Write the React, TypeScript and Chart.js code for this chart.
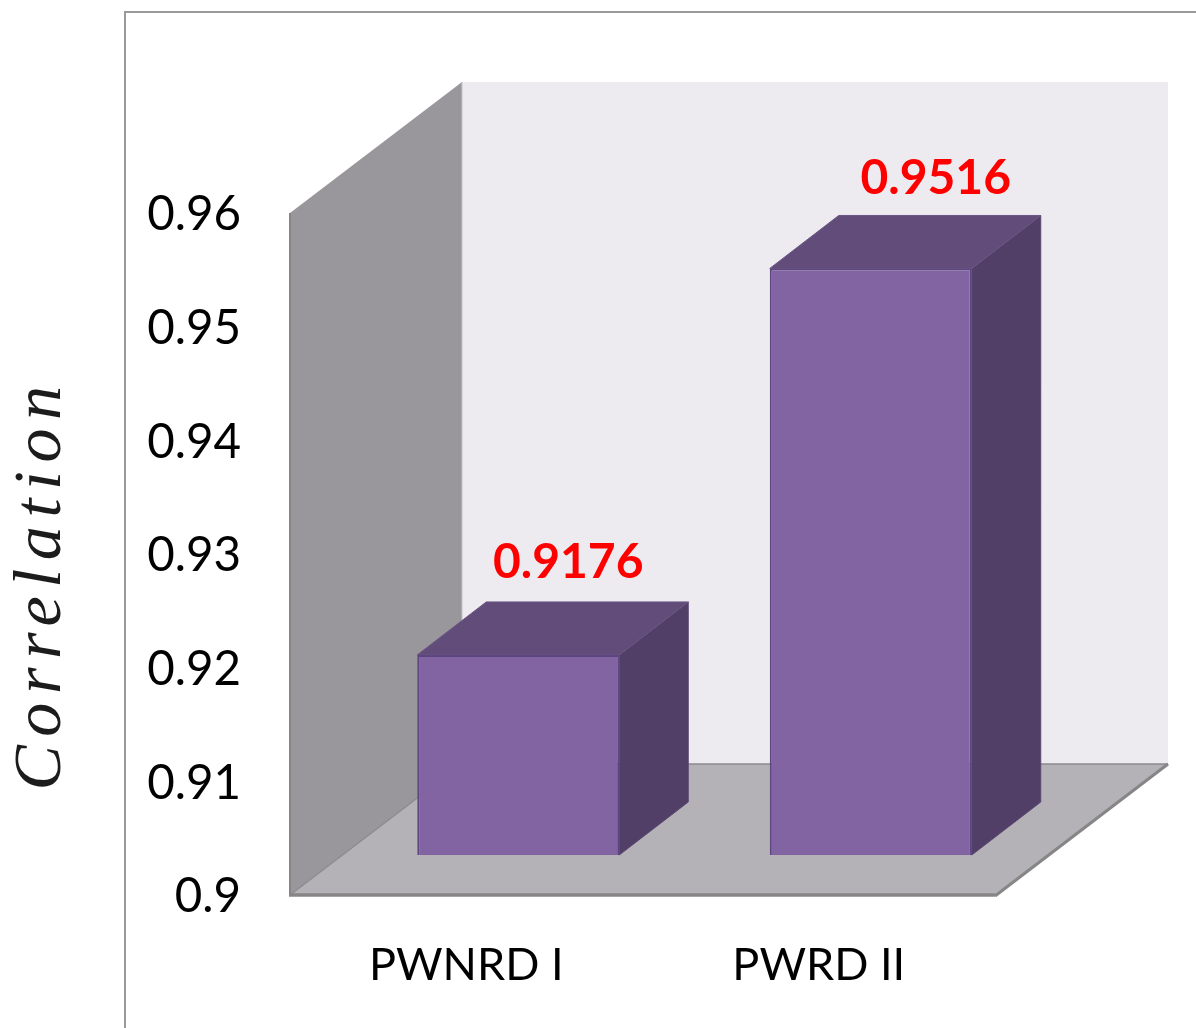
import { useEffect, useRef } from "react";
import { Chart, registerables } from "chart.js";

Chart.register(...registerables);

const categories = ["PWNRD I", "PWRD II"];
const correlations = [0.9176, 0.9516];
const axisMin = 0.9;
const axisMax = 0.96;
const axisStep = 0.01;
const axisTitle = "Correlation";

const WALL_DX = 172;
const WALL_DY = -131;
const BAR_SHIFT_X = 52;
const BAR_SHIFT_Y = -40;
const BAR_DX = 69;
const BAR_DY = -53;
const LABEL_DX = [50, 65];
const LABEL_DY = [-92, -90];
const TICK_DROP = 2;

function poly(ctx: CanvasRenderingContext2D, pts: number[][], fill: string, stroke?: string, lw = 1) {
  ctx.beginPath();
  pts.forEach(([x, y], i) => (i ? ctx.lineTo(x, y) : ctx.moveTo(x, y)));
  ctx.closePath();
  ctx.fillStyle = fill;
  ctx.fill();
  if (stroke) {
    ctx.strokeStyle = stroke;
    ctx.lineWidth = lw;
    ctx.stroke();
  }
}

function line(ctx: CanvasRenderingContext2D, x0: number, y0: number, x1: number, y1: number, color: string, lw: number) {
  ctx.beginPath();
  ctx.moveTo(x0, y0);
  ctx.lineTo(x1, y1);
  ctx.strokeStyle = color;
  ctx.lineWidth = lw;
  ctx.stroke();
}

// Outer frame, side wall, back wall and floor of the 3D box behind the bars.
const boxPlugin = {
  id: "box3d",
  beforeDraw(chart: any) {
    const { ctx, chartArea: a } = chart;
    const yScale = chart.scales.y;
    if (!yScale.__dropped) {
      // Tick text sits a little below the tick position.
      const drawLabels = yScale.drawLabels.bind(yScale);
      yScale.drawLabels = (area: any) => {
        yScale.ctx.save();
        yScale.ctx.translate(0, TICK_DROP);
        drawLabels(area);
        yScale.ctx.restore();
      };
      yScale.__dropped = true;
    }
    ctx.save();
    ctx.fillStyle = "#ffffff";
    ctx.fillRect(0, 0, chart.width, chart.height);
    line(ctx, 125, 1028, 125, 12, "#9a9a9a", 2);
    line(ctx, 124, 12, 1196, 12, "#9a9a9a", 2);
    const { left: l, right: r, top: t, bottom: b } = a;
    poly(ctx, [[l + WALL_DX, t + WALL_DY], [r + WALL_DX + 1, t + WALL_DY], [r + WALL_DX + 1, b + WALL_DY], [l + WALL_DX, b + WALL_DY]], "#edebf0");
    poly(ctx, [[l, t], [l + WALL_DX, t + WALL_DY], [l + WALL_DX, b + WALL_DY], [l, b]], "#99979b");
    poly(ctx, [[l, b], [r, b], [r + WALL_DX + 1, b + WALL_DY], [l + WALL_DX, b + WALL_DY]], "#b4b2b6");
    line(ctx, l + WALL_DX, b + WALL_DY, r + WALL_DX + 1, b + WALL_DY, "#8a8a8c", 1.5);
    line(ctx, l, b, l + WALL_DX, b + WALL_DY, "#8a8a8c", 1.2);
    line(ctx, l + WALL_DX, t + WALL_DY, l + WALL_DX, b + WALL_DY, "#c4c3c8", 1);
    line(ctx, r, b + 1, r + WALL_DX + 1, b + WALL_DY, "#868686", 3);
    line(ctx, l, t, l, b + 1, "#868686", 2);
    line(ctx, l - 1, b, r, b, "#868686", 3.5);
    ctx.restore();
  },
  beforeDatasetDraw(chart: any) {
    const { ctx } = chart;
    ctx.save();
    ctx.translate(BAR_SHIFT_X, BAR_SHIFT_Y);
    chart.getDatasetMeta(0).data.forEach((bar: any) => {
      const x0 = bar.x - bar.width / 2;
      const x1 = bar.x + bar.width / 2;
      poly(ctx, [[x1, bar.y], [x1 + BAR_DX, bar.y + BAR_DY], [x1 + BAR_DX, bar.base + BAR_DY], [x1, bar.base]], "#523f68", "#5a4672", 1);
      poly(ctx, [[x0, bar.y], [x1, bar.y], [x1 + BAR_DX, bar.y + BAR_DY], [x0 + BAR_DX, bar.y + BAR_DY]], "#614c7a", "#6a5584", 1);
    });
  },
  afterDatasetDraw(chart: any) {
    chart.ctx.restore();
  },
  afterDraw(chart: any) {
    const { ctx } = chart;
    const meta = chart.getDatasetMeta(0).data;
    ctx.save();
    ctx.fillStyle = "#ff0000";
    ctx.font = "bold 48px Lato";
    ctx.textAlign = "center";
    ctx.textBaseline = "middle";
    meta.forEach((bar: any, i: number) => {
      ctx.fillText(correlations[i].toFixed(4), bar.x + BAR_SHIFT_X + LABEL_DX[i], bar.y + BAR_SHIFT_Y + LABEL_DY[i]);
    });
    ctx.restore();

    ctx.save();
    ctx.translate(60, 584);
    ctx.rotate(-Math.PI / 2);
    ctx.fillStyle = "#1c1c1c";
    ctx.font = 'italic 68px "Liberation Serif"';
    (ctx as any).letterSpacing = "8.6px";
    ctx.textAlign = "center";
    ctx.textBaseline = "alphabetic";
    ctx.fillText(axisTitle, 0, 0);
    ctx.restore();
  },
};

export default function App() {
  const ref = useRef<HTMLCanvasElement>(null);
  useEffect(() => {
    const chart = new Chart(ref.current!, {
      type: "bar",
      data: {
        labels: categories,
        datasets: [
          {
            data: correlations,
            base: axisMin,
            backgroundColor: "#8264a2",
            borderColor: "#5c4680",
            borderWidth: 2,
            categoryPercentage: 1,
            barPercentage: 0.573,
            clip: false,
          } as any,
        ],
      },
      options: {
        animation: false,
        responsive: false,
        layout: { padding: { top: 213, right: 201, left: 0, bottom: 0 } },
        plugins: { legend: { display: false }, tooltip: { enabled: false } },
        scales: {
          x: {
            grid: { display: false, drawTicks: false },
            border: { display: false },
            ticks: { color: "#000000", font: { family: "Lato", size: 45 }, padding: 43, maxRotation: 0 },
            afterFit(scale: any) {
              scale.height = 133;
            },
          },
          y: {
            min: axisMin,
            max: axisMax,
            grid: { display: false, drawTicks: false },
            border: { display: false },
            ticks: {
              stepSize: axisStep,
              color: "#000000",
              font: { family: "Lato", size: 47.5 },
              padding: 49,
              callback: (v: any) => String(Number(Number(v).toFixed(2))),
            },
            afterFit(scale: any) {
              scale.width = 290;
            },
          },
        },
      },
      plugins: [boxPlugin],
    });
    return () => chart.destroy();
  }, []);
  return (
    <div style={{ position: "fixed", left: 0, top: 0, width: 1196, height: 1028, overflow: "hidden" }}>
      <canvas ref={ref} width={1196} height={1028} style={{ display: "block" }} />
    </div>
  );
}
